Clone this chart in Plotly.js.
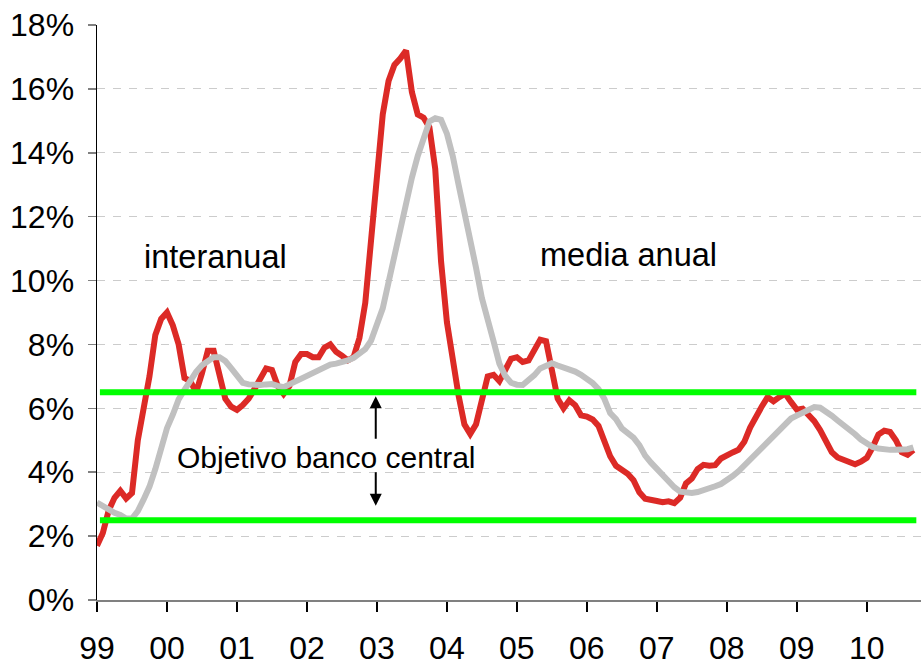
<!DOCTYPE html>
<html>
<head>
<meta charset="utf-8">
<script src="https://cdn.plot.ly/plotly-3.0.1.min.js"></script>
<style>
  html, body { margin: 0; padding: 0; background: #ffffff; }
  #chart { width: 922px; height: 665px; }
</style>
</head>
<body>
<div id="chart"></div>
<script>
// Year tick labels (January of each year)
const yearLabels = ["99", "00", "01", "02", "03", "04", "05", "06", "07", "08", "09", "10"];

// Inflación interanual (%), monthly from Jan 1999
const interanual = [
  1.7, 2.1, 2.8, 3.2, 3.42, 3.18, 3.35, 5.0, 6.0, 7.0,
  8.3, 8.8, 9.0, 8.6, 8.0, 6.95, 6.85, 6.5, 7.1, 7.8,
  7.8, 7.05, 6.3, 6.05, 5.95, 6.1, 6.3, 6.6, 6.95, 7.25,
  7.2, 6.7, 6.45, 6.7, 7.45, 7.7, 7.7, 7.6, 7.6, 7.9,
  8.0, 7.77, 7.65, 7.5, 7.6, 8.2, 9.3, 11.3, 13.3, 15.2,
  16.25, 16.75, 16.95, 17.2, 15.9, 15.2, 15.1, 14.8, 13.5, 10.6,
  8.7, 7.5, 6.4, 5.5, 5.2, 5.5, 6.3, 7.0, 7.05, 6.85,
  7.2, 7.55, 7.6, 7.45, 7.5, 7.8, 8.15, 8.1, 7.2, 6.3,
  6.0, 6.25, 6.1, 5.78, 5.74, 5.65, 5.45, 5.0, 4.5, 4.2,
  4.08, 3.95, 3.75, 3.37, 3.17, 3.15, 3.1, 3.06, 3.09, 3.03,
  3.2, 3.65, 3.8, 4.1, 4.23, 4.2, 4.22, 4.43, 4.55, 4.62,
  4.7, 4.95, 5.4, 5.78, 6.06, 6.35, 6.22, 6.35, 6.46, 6.2,
  5.96, 5.99, 5.8, 5.6, 5.32, 4.93, 4.63, 4.46, 4.39, 4.3,
  4.25, 4.33, 4.45, 4.78, 5.18, 5.3, 5.26, 5.0, 4.63, 4.55, 4.7
];

// Inflación media anual (%), monthly from Jan 1999
const mediaAnual = [
  3.05, 2.95, 2.8, 2.73, 2.66, 2.55, 2.55, 2.78, 3.15, 3.55,
  4.1, 4.78, 5.38, 5.8, 6.28, 6.58, 6.87, 7.14, 7.35, 7.5,
  7.6, 7.6, 7.48, 7.26, 7.02, 6.8, 6.75, 6.73, 6.73, 6.75,
  6.76, 6.7, 6.66, 6.75, 6.84, 6.92, 7.01, 7.09, 7.2, 7.32,
  7.37, 7.4, 7.43, 7.5, 7.58, 7.7, 7.85, 8.12, 8.6, 9.13,
  9.95, 10.8, 11.65, 12.45, 13.22, 13.9, 14.48, 14.98, 15.08, 15.03,
  14.6, 13.9, 13.0, 12.2, 11.25, 10.4, 9.45, 8.85, 8.1, 7.4,
  7.02, 6.8, 6.74, 6.73, 6.87, 7.04, 7.25, 7.35, 7.41, 7.34,
  7.28, 7.22, 7.15, 7.05, 6.92, 6.79, 6.6, 6.3, 5.85, 5.66,
  5.37, 5.22, 5.08, 4.85, 4.52, 4.3, 4.1, 3.95, 3.75, 3.53,
  3.39, 3.36, 3.35, 3.38, 3.43, 3.5, 3.56, 3.63, 3.73, 3.88,
  4.03, 4.21, 4.39, 4.6, 4.8, 4.99, 5.17, 5.35, 5.52, 5.68,
  5.77, 5.86, 5.96, 6.04, 6.02, 5.92, 5.77, 5.62, 5.49, 5.35,
  5.19, 5.02, 4.9, 4.79, 4.74, 4.71, 4.7, 4.7, 4.7, 4.72, 4.78
];

// Banda objetivo del banco central (%)
const objetivoSuperior = 6.5;
const objetivoInferior = 2.5;

// Y axis ticks
const yTickVals = [0, 2, 4, 6, 8, 10, 12, 14, 16, 18];
const yTickText = ["0%", "2%", "4%", "6%", "8%", "10%", "12%", "14%", "16%", "18%"];

// Derived helpers (month index positions)
const months = interanual.map((_, i) => i);
const yearTickVals = yearLabels.map((_, i) => i * 12);
const bandX = [months[0] + 0.5, months[months.length - 1] + 0.5];

const FONT = "Liberation Sans, Arial, sans-serif";

const traces = [
  {
    x: months, y: interanual, type: "scatter", mode: "lines",
    line: { color: "#dc2a26", width: 6, shape: "linear" },
    hoverinfo: "skip", showlegend: false
  },
  {
    x: months, y: mediaAnual, type: "scatter", mode: "lines",
    line: { color: "#c0c0c0", width: 6, shape: "linear" },
    hoverinfo: "skip", showlegend: false
  },
  {
    x: bandX, y: bandX.map(() => objetivoSuperior), type: "scatter", mode: "lines",
    line: { color: "#00ff00", width: 6 },
    hoverinfo: "skip", showlegend: false
  },
  {
    x: bandX, y: bandX.map(() => objetivoInferior), type: "scatter", mode: "lines",
    line: { color: "#00ff00", width: 6 },
    hoverinfo: "skip", showlegend: false
  }
];

const layout = {
  width: 922, height: 665,
  margin: { l: 97, r: 1, t: 25, b: 65 },
  paper_bgcolor: "#ffffff",
  plot_bgcolor: "#ffffff",
  font: { family: FONT, color: "#000000", size: 32 },
  showlegend: false,
  xaxis: {
    range: [0, 141.3],
    tickmode: "array",
    tickvals: yearTickVals,
    ticktext: yearLabels,
    ticks: "outside", ticklen: 10, tickwidth: 1.5, tickcolor: "#000000",
    showline: true, linecolor: "#808080", linewidth: 1.5,
    showgrid: false, zeroline: false,
    tickfont: { family: FONT, size: 32, color: "#000000" },
    ticklabelstandoff: 9,
    fixedrange: true
  },
  yaxis: {
    range: [0, 18],
    tickmode: "array",
    tickvals: yTickVals,
    ticktext: yTickText,
    ticks: "outside", ticklen: 8, tickwidth: 1.5, tickcolor: "#808080",
    showline: true, linecolor: "#000000", linewidth: 1.5,
    showgrid: true, gridcolor: "#cccccc", gridwidth: 1.2, griddash: "8px,8px",
    zeroline: false,
    tickfont: { family: FONT, size: 32, color: "#000000" },
    ticklabelstandoff: 7,
    fixedrange: true
  },
  annotations: [
    {
      x: 20.3, y: 10.74, xref: "x", yref: "y",
      text: "interanual", showarrow: false,
      font: { family: FONT, size: 32.5, color: "#000000" },
      xanchor: "center", yanchor: "middle"
    },
    {
      x: 91.2, y: 10.8, xref: "x", yref: "y",
      text: "media anual", showarrow: false,
      font: { family: FONT, size: 32.5, color: "#000000" },
      xanchor: "center", yanchor: "middle"
    },
    {
      x: 39.4, y: 4.45, xref: "x", yref: "y",
      text: "Objetivo banco central", showarrow: false,
      font: { family: FONT, size: 30, color: "#000000" },
      xanchor: "center", yanchor: "middle"
    },
    {
      x: 47.8, y: 6.38, xref: "x", yref: "y",
      ax: 47.8, ay: 5.0, axref: "x", ayref: "y",
      text: "", showarrow: true,
      arrowhead: 2, arrowsize: 1.2, arrowwidth: 2, arrowcolor: "#000000"
    },
    {
      x: 47.8, y: 2.95, xref: "x", yref: "y",
      ax: 47.8, ay: 4.05, axref: "x", ayref: "y",
      text: "", showarrow: true,
      arrowhead: 2, arrowsize: 1.2, arrowwidth: 2, arrowcolor: "#000000"
    }
  ]
};

Plotly.newPlot("chart", traces, layout, { displayModeBar: false, staticPlot: true });
</script>
</body>
</html>
